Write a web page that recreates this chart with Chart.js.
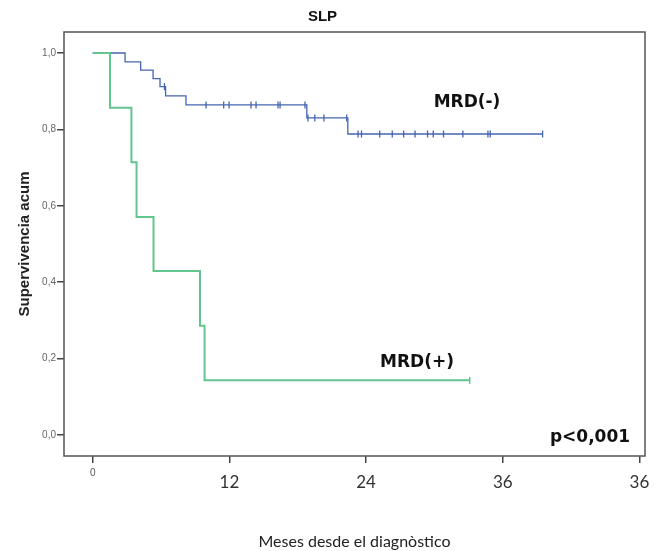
<!DOCTYPE html>
<html>
<head>
<meta charset="utf-8">
<script src="https://cdn.jsdelivr.net/npm/chart.js@4.4.1/dist/chart.umd.min.js"></script>
<style>
  html, body { margin: 0; padding: 0; background: #fff; }
  #wrap { width: 658px; height: 551px; }
</style>
</head>
<body>
<div id="wrap"><canvas id="kmChart" width="658" height="551"></canvas></div>
<script>
// Kaplan-Meier data (months, cumulative survival)
const negTimes = [0, 2.84, 4.21, 5.3, 5.91, 6.4, 8.19, 18.8, 22.4, 39.5];
const negSurv  = [1, 0.977, 0.955, 0.933, 0.912, 0.888, 0.864, 0.830, 0.788, 0.788];
const negCensored = [6.3, 9.95, 11.5, 11.97, 13.9, 14.34, 16.27, 16.45, 18.64,
                     18.9, 19.5, 20.3, 22.3,
                     23.3, 23.6, 25.2, 26.3, 27.3, 28.3, 29.4, 29.9, 30.8, 32.5, 34.7, 34.9, 39.5];

const posTimes = [0, 1.52, 3.4, 3.85, 5.34, 9.42, 9.82, 33.1];
const posSurv  = [1, 0.857, 0.714, 0.571, 0.429, 0.286, 0.143, 0.143];
const posCensored = [33.1];

const xTickValues = [0, 12, 24, 36, 48];
const xTickLabels = ['0', '12', '24', '36', '36'];
const yTickValues = [0, 0.2, 0.4, 0.6, 0.8, 1.0];
const yTickLabels = ['0,0', '0,2', '0,4', '0,6', '0,8', '1,0'];

const blue = '#4565b0';
const green = '#62c58d';

function toPoints(times, surv) {
    return times.map((t, i) => ({ x: t, y: surv[i] }));
}

// level of the step curve at a censoring time
function levelAt(times, surv, t) {
    let s = surv[0];
    for (let i = 0; i < times.length; i++) {
        if (times[i] <= t) s = surv[i];
    }
    return s;
}

function censorPoints(censored, times, surv) {
    return censored.map(t => ({ x: t, y: levelAt(times, surv, t) }));
}

// box around the plot + annotation texts
const boxPlugin = {
    id: 'boxPlugin',
    beforeDraw(chart) {
        const c = chart.ctx;
        c.save();
        c.fillStyle = '#fff';
        c.fillRect(0, 0, chart.width, chart.height);
        c.restore();
    },
    afterDraw(chart) {
        const c = chart.ctx;
        const a = chart.chartArea;
        c.save();
        c.strokeStyle = '#555';
        c.lineWidth = 1.5;
        c.strokeRect(a.left, a.top, a.right - a.left, a.bottom - a.top);

        c.fillStyle = '#111';
        c.font = 'bold 17px "DejaVu Sans"';
        c.textAlign = 'center';
        c.textBaseline = 'middle';
        c.fillText('MRD(-)', 467, 103);
        c.fillText('MRD(+)', 417, 363);
        c.fillText('p<0,001', 590, 438);
        c.restore();
    }
};

const ctx = document.getElementById('kmChart');

new Chart(ctx, {
    type: 'scatter',
    data: {
        datasets: [
            {
                label: 'MRD(-)',
                data: toPoints(negTimes, negSurv),
                showLine: true,
                stepped: true,
                borderColor: blue,
                borderWidth: 1.3,
                pointRadius: 0,
                fill: false,
                order: 2
            },
            {
                label: 'MRD(+)',
                data: toPoints(posTimes, posSurv),
                showLine: true,
                stepped: true,
                borderColor: green,
                borderWidth: 2,
                pointRadius: 0,
                fill: false,
                order: 1
            },
            {
                label: 'MRD(-) censored',
                data: censorPoints(negCensored, negTimes, negSurv),
                showLine: false,
                pointStyle: 'line',
                rotation: 90,
                pointRadius: 3.5,
                borderColor: blue,
                borderWidth: 1.3,
                order: 0
            },
            {
                label: 'MRD(+) censored',
                data: censorPoints(posCensored, posTimes, posSurv),
                showLine: false,
                pointStyle: 'line',
                rotation: 90,
                pointRadius: 3.5,
                borderColor: green,
                borderWidth: 1.5,
                order: 0
            }
        ]
    },
    options: {
        responsive: false,
        animation: false,
        layout: { padding: { left: 0, right: 13, top: 0, bottom: 0 } },
        plugins: {
            legend: { display: false },
            tooltip: { enabled: false },
            title: {
                display: true,
                text: 'SLP',
                color: '#111',
                font: { family: '"Liberation Sans", Arial', size: 15, weight: 'bold' },
                padding: { top: 8, bottom: 6 }
            }
        },
        scales: {
            x: {
                type: 'linear',
                min: -2.52,
                max: 48.49,
                afterBuildTicks: s => { s.ticks = xTickValues.map(v => ({ value: v })); },
                afterFit: s => { s.height = 95; },
                ticks: {
                    autoSkip: false,
                    maxRotation: 0,
                    padding: 4,
                    callback: (v, i) => xTickLabels[i],
                    color: c => (c.tick && c.tick.value === 0) ? '#555' : '#333',
                    font: c => (c.tick && c.tick.value === 0)
                        ? { family: '"Liberation Sans", Arial', size: 10, lineHeight: 1.2 }
                        : { family: 'Lato', size: 17, lineHeight: 1.85 }
                },
                grid: {
                    drawOnChartArea: false,
                    drawTicks: true,
                    tickLength: 7,
                    color: '#444',
                    lineWidth: 1.5
                },
                border: { display: false },
                title: {
                    display: true,
                    text: 'Meses desde el diagnòstico',
                    color: '#222',
                    font: { family: 'Lato', size: 16 },
                    padding: { top: 0, bottom: 0 }
                }
            },
            y: {
                type: 'linear',
                min: -0.055,
                max: 1.055,
                afterBuildTicks: s => { s.ticks = yTickValues.map(v => ({ value: v })); },
                afterFit: s => { s.width = 64; },
                ticks: {
                    padding: 1,
                    callback: (v, i) => yTickLabels[i],
                    color: '#666',
                    font: { family: '"Liberation Sans", Arial', size: 10 }
                },
                grid: {
                    drawOnChartArea: false,
                    drawTicks: true,
                    tickLength: 7,
                    color: '#444',
                    lineWidth: 1.5
                },
                border: { display: false },
                title: {
                    display: true,
                    text: 'Supervivencia acum',
                    color: '#222',
                    font: { family: '"Liberation Sans", Arial', size: 15, weight: 'bold' },
                    padding: { top: 16, bottom: 0 }
                }
            }
        }
    },
    plugins: [boxPlugin]
});
</script>
</body>
</html>
